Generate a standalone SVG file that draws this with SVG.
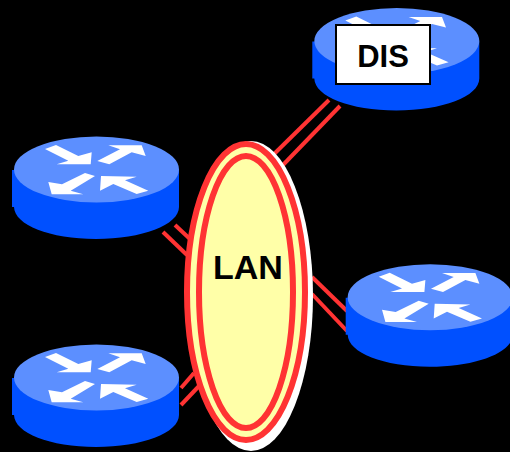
<svg xmlns="http://www.w3.org/2000/svg" xmlns:xlink="http://www.w3.org/1999/xlink" width="510" height="452" viewBox="0 0 510 452">
<style>
.link{stroke:#ff3333;stroke-width:4;fill:none}
.ring{stroke:#ff3333;stroke-width:6;fill:none}
.side{fill:#0050ff}
.top{fill:#5c8fff}
.arrow{fill:#fff}
.label{font-family:"Liberation Sans",Arial,sans-serif;font-weight:700;fill:#000;text-anchor:middle}
</style>
<defs>
<g id="router">
<path class="side" d="M12 170H14.500C14.500 170 96 137 179 170V207C179 225 142 239 96 239C50 239 14.500 225 14 207H12Z"/>
<ellipse class="top" cx="96.500" cy="169.500" rx="82.500" ry="33"/>
<path class="arrow" d="M45 149L56 145L78.300 156L91.700 152.300L90.700 164.300H56.700L68.300 160.700Z"/>
<path class="arrow" d="M97.300 161L120 149.300L108.300 145.300H141.700L145.700 156L131.700 152.300L109.300 164.300Z"/>
<path class="arrow" d="M95 176L85 173L62 184.300L48.300 182L51.700 194.300H83.300L70.700 190.700Z"/>
<path class="arrow" d="M100 190.700L101 176L136.700 176.700L125 180.300L148.300 190.700L136.700 194L113.300 184Z"/>
</g>
</defs>
<rect width="510" height="452" fill="#000"/>
<g id="connectors">
<line class="link" x1="329" y1="100" x2="271" y2="157"/>
<line class="link" x1="340" y1="106" x2="281" y2="167"/>
<line class="link" x1="163" y1="232" x2="187" y2="255"/>
<line class="link" x1="175" y1="225" x2="190" y2="239"/>
<line class="link" x1="181" y1="388" x2="194" y2="373"/>
<line class="link" x1="181" y1="405" x2="199" y2="386"/>
<line class="link" x1="312" y1="277" x2="347" y2="311"/>
<line class="link" x1="312" y1="294" x2="347" y2="331"/>
</g>
<g id="lan">
<ellipse cx="251" cy="296" rx="62" ry="155" fill="#fff"/>
<ellipse cx="246" cy="292" rx="59" ry="148" fill="#ffffa8"/>
<ellipse class="ring" cx="246" cy="292" rx="59" ry="148"/>
<ellipse class="ring" cx="246" cy="292" rx="47" ry="136"/>
<text class="label" x="248" y="279" font-size="34">LAN</text>
</g>
<g id="router-left-top"><use xlink:href="#router" href="#router"/></g>
<g id="router-left-bottom"><use xlink:href="#router" href="#router" y="208"/></g>
<g id="router-right"><use xlink:href="#router" href="#router" x="333.700" y="127.700"/></g>
<g id="router-dis"><use xlink:href="#router" href="#router" x="300.300" y="-128.400"/>
<rect x="336" y="25" width="94" height="59" fill="#fff" stroke="#000" stroke-width="2"/>
<text class="label" x="383" y="67" font-size="31">DIS</text></g>
</svg>
